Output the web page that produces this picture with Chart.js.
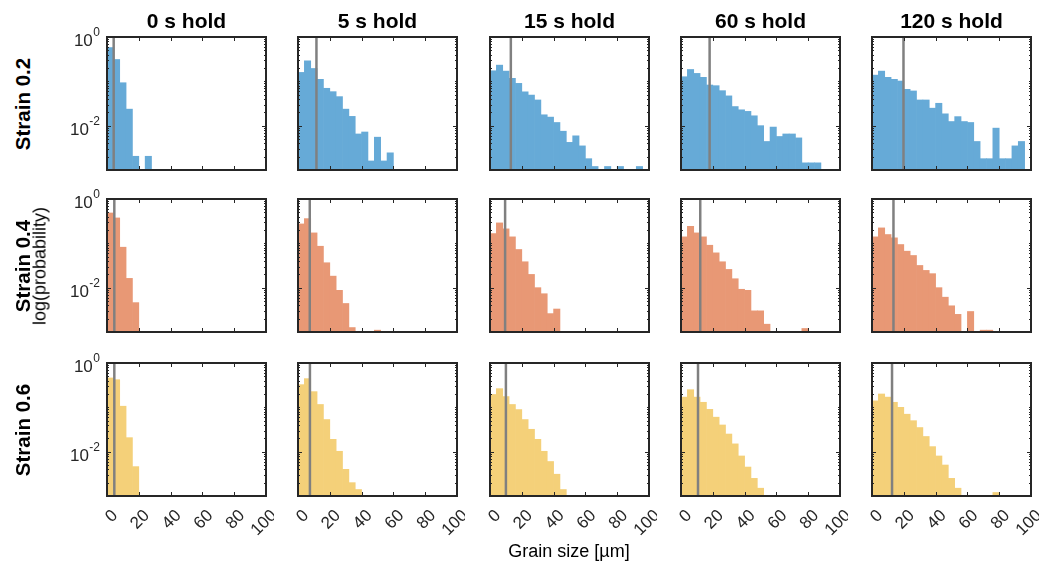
<!DOCTYPE html>
<html>
<head>
<meta charset="utf-8">
<script src="https://cdn.jsdelivr.net/npm/chart.js@4.4.1/dist/chart.umd.min.js"></script>
<style>
  body { margin: 0; background: #fff; font-family: "Liberation Sans", Arial, sans-serif; }
  #fig { position: relative; width: 1057px; height: 570px; overflow: hidden; }
  #fig canvas { position: absolute; }
  .lbl { position: absolute; white-space: nowrap; color: #000; transform: translate(-50%, -50%); }
  .vert { transform: translate(-50%, -50%) rotate(-90deg); }
  .bold { font-weight: bold; }
</style>
</head>
<body>
<div id="fig"></div>
<script>
// column / row labels
const holdLabels = ['0 s hold', '5 s hold', '15 s hold', '60 s hold', '120 s hold'];
const strainLabels = ['Strain 0.2', 'Strain 0.4', 'Strain 0.6'];
const xTicks = [0, 20, 40, 60, 80, 100];
const yTicks = [1, 0.01];
const binWidth = 4; // µm

// probability per 4 µm bin (0 = empty bin)
const s02h0 = [0.578, 0.311, 0.093, 0.0236, 0.00204, 0, 0.00204];
const s02h5 = [0.159, 0.29, 0.195, 0.111, 0.0697, 0.0585, 0.0452, 0.0236, 0.0162, 0.0065, 0.0072, 0.0016, 0.0055, 0.0016, 0.00244];
const s02h15 = [0.173, 0.232, 0.17, 0.117, 0.09, 0.058, 0.049, 0.038, 0.0176, 0.0156, 0.0118, 0.0075, 0.0042, 0.0059, 0.0035, 0.0018, 0.0012, 0, 0.0012, 0, 0.0012, 0, 0, 0.0012];
const s02h60 = [0.127, 0.185, 0.151, 0.123, 0.0826, 0.0798, 0.0616, 0.047, 0.027, 0.0228, 0.021, 0.0167, 0.01, 0.0044, 0.0093, 0.0057, 0.0065, 0.0065, 0.0053, 0.00145, 0.00145, 0.00145];
const s02h120 = [0.138, 0.17, 0.123, 0.111, 0.1016, 0.066, 0.0607, 0.038, 0.038, 0.0248, 0.032, 0.0185, 0.0124, 0.016, 0.0124, 0.0118, 0.0044, 0.0018, 0.0018, 0.0088, 0.0018, 0.0018, 0.0035, 0.0044];

const s04h0 = [0.484, 0.374, 0.0818, 0.0162, 0.0046];
const s04h5 = [0.274, 0.361, 0.172, 0.086, 0.0365, 0.0182, 0.0087, 0.0044, 0.00126, 0, 0, 0, 0.0011];
const s04h15 = [0.166, 0.289, 0.212, 0.14, 0.0726, 0.0384, 0.0199, 0.01, 0.0073, 0.0026, 0.0033];
const s04h60 = [0.14, 0.242, 0.172, 0.14, 0.0906, 0.061, 0.0384, 0.0258, 0.0159, 0.0092, 0.0087, 0.003, 0.003, 0.0015, 0, 0, 0, 0, 0, 0.0012];
const s04h120 = [0.14, 0.223, 0.158, 0.133, 0.094, 0.0665, 0.0532, 0.0317, 0.0245, 0.0207, 0.01, 0.0061, 0.0039, 0.0025, 0, 0.0029, 0, 0.0011, 0.0011];

const s06h0 = [0.46, 0.42, 0.106, 0.0207, 0.0046];
const s06h5 = [0.325, 0.444, 0.226, 0.116, 0.053, 0.019, 0.0102, 0.004, 0.002, 0.0014];
const s06h15 = [0.195, 0.264, 0.175, 0.116, 0.089, 0.053, 0.032, 0.019, 0.0102, 0.006, 0.0031, 0.0014];
const s06h60 = [0.17, 0.25, 0.17, 0.13, 0.09, 0.06, 0.04, 0.025, 0.015, 0.008, 0.0045, 0.0025, 0.0015];
const s06h120 = [0.14, 0.2, 0.17, 0.13, 0.1, 0.07, 0.05, 0.035, 0.022, 0.013, 0.008, 0.005, 0.0025, 0.0015, 0, 0, 0, 0, 0, 0.0012];

// grey marker line (mean grain size, µm)
const mean02 = [4.2, 11.6, 13.1, 18.0, 19.8];
const mean04 = [4.6, 7.4, 9.5, 12.1, 13.5];
const mean06 = [4.6, 7.5, 10.0, 10.7, 12.6];

const rows = [
  [s02h0, s02h5, s02h15, s02h60, s02h120],
  [s04h0, s04h5, s04h15, s04h60, s04h120],
  [s06h0, s06h5, s06h15, s06h60, s06h120]
];
const means = [mean02, mean04, mean06];
const barColors = ['#66aad7', '#e89875', '#f4d079'];

// layout of the 3 x 5 grid (plot areas)
const colLeft = [107, 298, 490, 681, 872];
const rowTop = [37, 199, 363];
const PW = 159, PH = 133;
const PAD_L = 64, PAD_T = 18, PAD_R = 8, PAD_B = 64;
const ink = '#262626';
const font = '"Liberation Sans", Arial, sans-serif';

const fig = document.getElementById('fig');

const framePlugin = {
    id: 'frame',
    afterDraw(chart, args, opts) {
        const ctx = chart.ctx;
        const { left, top, right, bottom } = chart.chartArea;
        const x = chart.scales.x, y = chart.scales.y;
        ctx.save();
        ctx.strokeStyle = ink;
        ctx.lineWidth = 1;

        // x ticks, inward on top and bottom
        xTicks.forEach(v => {
            const px = Math.round(x.getPixelForValue(v)) + 0.5;
            ctx.beginPath();
            ctx.moveTo(px, bottom); ctx.lineTo(px, bottom - 4);
            ctx.moveTo(px, top); ctx.lineTo(px, top + 4);
            ctx.stroke();
        });

        // y ticks: major at labelled decades, minor elsewhere
        for (let d = -3; d <= 0; d++) {
            for (let k = 1; k <= 9; k++) {
                const v = k * Math.pow(10, d);
                if (v > 1) break;
                const py = Math.round(y.getPixelForValue(v)) + 0.5;
                const len = yTicks.includes(v) ? 4 : 2;
                ctx.beginPath();
                ctx.moveTo(left, py); ctx.lineTo(left + len, py);
                ctx.moveTo(right, py); ctx.lineTo(right - len, py);
                ctx.stroke();
            }
        }

        // box
        ctx.lineWidth = 2;
        ctx.strokeRect(left, top, right - left, bottom - top);

        ctx.fillStyle = ink;
        if (opts.col === 0) {
            yTicks.forEach(v => {
                const py = y.getPixelForValue(v);
                const ex = String(Math.round(Math.log10(v)));
                ctx.font = '12px ' + font;
                const ew = ctx.measureText(ex).width;
                ctx.textAlign = 'left';
                ctx.textBaseline = 'alphabetic';
                const xEnd = left - 7;
                ctx.fillText(ex, xEnd - ew, py - 1);
                ctx.font = '17px ' + font;
                ctx.textAlign = 'right';
                ctx.fillText('10', xEnd - ew - 0.5, py + 9);
            });
        }
        if (opts.row === 2) {
            ctx.font = '17px ' + font;
            ctx.textAlign = 'right';
            ctx.textBaseline = 'middle';
            xTicks.forEach(v => {
                const px = x.getPixelForValue(v);
                ctx.save();
                ctx.translate(px + 8, bottom + 17);
                ctx.rotate(-Math.PI / 4);
                ctx.fillText(String(v), 0, 0);
                ctx.restore();
            });
        }
        ctx.restore();
    }
};

function makePanel(r, c) {
    const canvas = document.createElement('canvas');
    canvas.width = PW + PAD_L + PAD_R;
    canvas.height = PH + PAD_T + PAD_B;
    canvas.style.left = (colLeft[c] - PAD_L) + 'px';
    canvas.style.top = (rowTop[r] - PAD_T) + 'px';
    fig.appendChild(canvas);

    const probs = rows[r][c];
    const bars = probs.map((p, i) => ({ x: (i + 0.5) * binWidth, y: p }));
    const m = means[r][c];

    new Chart(canvas, {
        type: 'bar',
        data: {
            datasets: [
                {
                    type: 'line',
                    data: [{ x: m, y: 0.001 }, { x: m, y: 1 }],
                    borderColor: '#808080',
                    borderWidth: 2.5,
                    pointRadius: 0,
                    order: 0
                },
                {
                    type: 'bar',
                    data: bars,
                    backgroundColor: barColors[r],
                    borderWidth: 0,
                    barPercentage: 1,
                    categoryPercentage: 1,
                    order: 1
                }
            ]
        },
        options: {
            responsive: false,
            animation: false,
            devicePixelRatio: 1,
            layout: { padding: { top: PAD_T, right: PAD_R, left: 0, bottom: 0 } },
            plugins: {
                legend: { display: false },
                tooltip: { enabled: false },
                frame: { row: r, col: c }
            },
            scales: {
                x: {
                    type: 'linear', min: 0, max: 100, offset: false,
                    grid: { display: false, drawTicks: false },
                    border: { display: false },
                    ticks: { display: false, stepSize: 20 },
                    afterFit: s => { s.height = PAD_B; }
                },
                y: {
                    type: 'logarithmic', min: 0.001, max: 1,
                    grid: { display: false, drawTicks: false },
                    border: { display: false },
                    ticks: { display: false },
                    afterFit: s => { s.width = PAD_L; }
                }
            }
        },
        plugins: [framePlugin]
    });
}

function addLabel(text, cx, cy, size, cls) {
    const d = document.createElement('div');
    d.className = 'lbl ' + (cls || '');
    d.textContent = text;
    d.style.left = cx + 'px';
    d.style.top = cy + 'px';
    d.style.fontSize = size + 'px';
    fig.appendChild(d);
}

for (let r = 0; r < 3; r++) {
    for (let c = 0; c < 5; c++) {
        makePanel(r, c);
    }
}

holdLabels.forEach((t, c) => addLabel(t, colLeft[c] + PW / 2, 21, 21, 'bold'));
strainLabels.forEach((t, r) => addLabel(t, 23, rowTop[r] + PH / 2, 20.5, 'bold vert'));
addLabel('log(probability)', 40, rowTop[1] + PH / 2, 18, 'vert');
addLabel('Grain size [µm]', 569, 551, 18, '');
</script>
</body>
</html>
